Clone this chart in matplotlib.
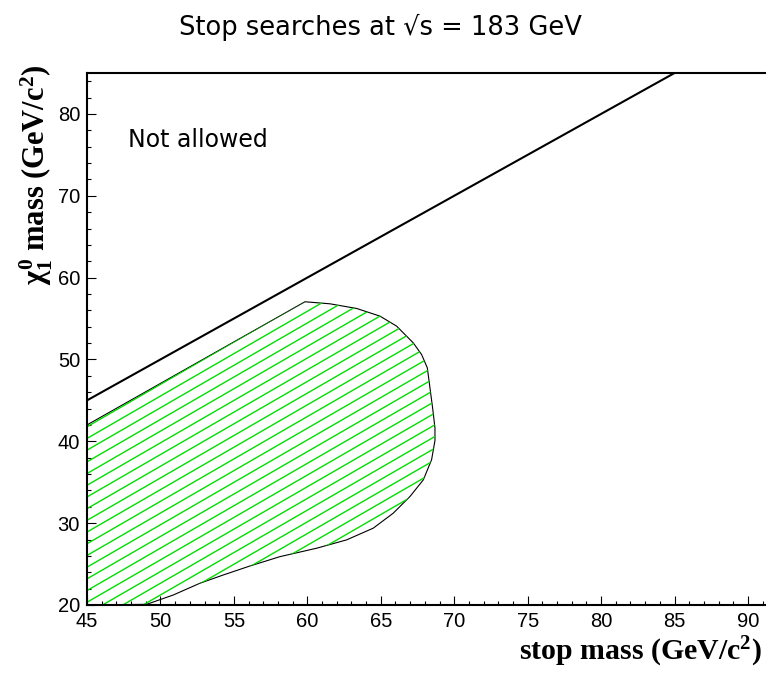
import numpy as np
import matplotlib
matplotlib.use('Agg')
import matplotlib.pyplot as plt
from matplotlib.patches import Polygon
from matplotlib.collections import LineCollection
from matplotlib.ticker import MultipleLocator

# ---- data ----
x_lo, x_hi = 45, 91.84
y_lo, y_hi = 20, 85

kin_x = [45, 85]          # m_chi = m_stop kinematic limit
kin_y = [45, 85]

excl_x = [45, 59.84, 61.54, 63.36, 64.95, 66.08, 67.21, 67.78, 68.17, 68.35,
          68.53, 68.69, 68.69, 68.46, 67.9, 66.99, 65.85, 64.49, 62.68, 60.64,
          58.14, 56.1, 54.28, 52.69, 50.87, 49.06, 45]
excl_y = [42, 57.05, 56.8, 56.23, 55.29, 54.07, 52.03, 50.6, 48.97, 46.52,
          44.07, 41.63, 40.1, 37.75, 35.3, 33.26, 31.22, 29.39, 27.96, 26.94,
          25.91, 24.77, 23.67, 22.66, 21.22, 20.08, 20]

x_ticks = [45, 50, 55, 60, 65, 70, 75, 80, 85, 90]
y_ticks = [20, 30, 40, 50, 60, 70, 80]

title = "Stop searches at \u221as = 183 GeV"
note = "Not allowed"

W, H = 766, 675
fig = plt.figure(figsize=(W / 100, H / 100), dpi=100)
ax = fig.add_axes([87 / W, 70 / H, 688 / W, 532 / H])
ax.set_xlim(x_lo, x_hi)
ax.set_ylim(y_lo, y_hi)

# kinematic line
ax.plot(kin_x, kin_y, color='black', lw=1.5, solid_capstyle='butt')

# excluded region outline
poly = Polygon(np.column_stack([excl_x, excl_y]), closed=True,
               facecolor='none', edgecolor='black', lw=0.8, joinstyle='round')
ax.add_patch(poly)

# hatching at 30 deg (display space) clipped to region
bb = ax.bbox
ang = np.deg2rad(30)
step = 11.7
t = np.tan(ang)
b0 = (H - 601.7) - t * 88
bmin = bb.y0 - t * (bb.x1 - bb.x0) - 50
bmax = bb.y1 + 50
kmin = int(np.floor((bmin - b0) / step))
kmax = int(np.ceil((bmax - b0) / step))
inv = ax.transData.inverted()
segs = []
for k in range(kmin, kmax + 1):
    b = b0 + k * step
    p = np.array([[bb.x0 - 20, t * (bb.x0 - 20) + b],
                  [bb.x1 + 20, t * (bb.x1 + 20) + b]])
    segs.append(inv.transform(p))
lc = LineCollection(segs, colors='#00dd00', linewidths=1.0)
ax.add_collection(lc)
lc.set_clip_path(poly)

ax.text(47.8, 75.9, note, fontsize=17, family='DejaVu Sans', va='baseline')

# axes styling
ax.spines['right'].set_visible(False)
for s in ['left', 'bottom', 'top']:
    ax.spines[s].set_linewidth(1.5)
ax.set_xticks(x_ticks)
ax.set_yticks(y_ticks)
ax.xaxis.set_minor_locator(MultipleLocator(1))
ax.yaxis.set_minor_locator(MultipleLocator(2))
ax.tick_params(which='both', direction='in', top=False, right=False)
ax.tick_params(which='major', length=6.5, width=0.8)
ax.tick_params(which='minor', length=3.2, width=0.8)
ax.tick_params(axis='x', which='major', pad=5)
ax.tick_params(axis='y', which='major', pad=5)
for lab in ax.get_xticklabels() + ax.get_yticklabels():
    lab.set_fontfamily('Liberation Sans')
    lab.set_fontsize(14.5)

plt.rcParams['mathtext.fontset'] = 'custom'
plt.rcParams['mathtext.rm'] = 'Liberation Serif:bold'
plt.rcParams['mathtext.it'] = 'Liberation Serif:bold'
plt.rcParams['mathtext.bf'] = 'Liberation Serif:bold'

fig.text(380 / W, 1 - 35 / H, title, fontsize=18.5, family='DejaVu Sans',
         ha='center', va='baseline')
fig.text(762 / W, 1 - 660 / H, r'stop mass (GeV/c$^{2}$)', fontsize=21.5,
         family='Liberation Serif', weight='bold', ha='right', va='baseline')
fig.text(36 / W, 1 - 64 / H, r'$\chi_{1}^{0}$ mass (GeV/c$^{2}$)', fontsize=22,
         family='Liberation Serif', weight='bold', rotation=90,
         ha='center', va='top')

fig.savefig('out.png', dpi=100)
